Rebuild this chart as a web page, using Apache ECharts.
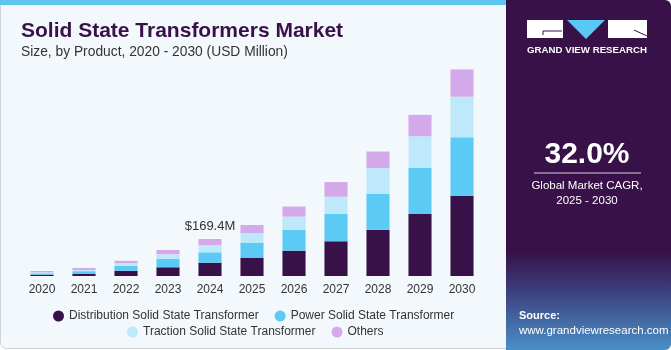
<!DOCTYPE html>
<html>
<head>
<meta charset="utf-8">
<script src="https://cdn.jsdelivr.net/npm/echarts@6/dist/echarts.min.js"></script>
<style>
  html, body { margin: 0; padding: 0; background: #ffffff; }
  #chart { width: 671px; height: 350px; }
</style>
</head>
<body>
<div id="chart"></div>
<script>
// 数据 (USD Million)
var years = ['2020', '2021', '2022', '2023', '2024', '2025', '2026', '2027', '2028', '2029', '2030'];
var distribution = [6, 10.5, 24, 40, 61, 84, 116, 159, 211, 284, 366];
var power = [6, 11.5, 23, 38, 47.6, 69, 95, 125, 165, 211, 269];
var traction = [5, 5.5, 12, 21.5, 33.4, 44, 61, 79, 118, 145, 186];
var others = [6, 9, 10.5, 19.7, 27.4, 36.6, 46, 67, 76, 98, 125];
var seriesNames = ['Distribution Solid State Transformer', 'Power Solid State Transformer',
  'Traction Solid State Transformer', 'Others'];
var colors = ['#371148', '#5bcaf5', '#bde9fa', '#d4a9e9'];
var annotateIndex = 4;
var annotateText = '$169.4M';

var font = '"Liberation Sans", Arial, sans-serif';

function makeSeries(name, data, color, isTop) {
  var s = {
    name: name,
    type: 'bar',
    stack: 'total',
    barWidth: '55%',
    itemStyle: { color: color },
    data: data.slice()
  };
  if (isTop) {
    s.data[annotateIndex] = {
      value: data[annotateIndex],
      label: {
        show: true,
        position: 'top',
        distance: 6,
        formatter: annotateText,
        color: '#333',
        fontSize: 13,
        fontFamily: font
      }
    };
  }
  return s;
}

var myChart = echarts.init(document.getElementById('chart'));

var option = {
  animation: false,
  backgroundColor: '#ffffff',
  color: colors,
  graphic: [
    // 左侧背景
    { type: 'rect', shape: { x: 0.5, y: 0.5, width: 520, height: 348, r: 6 },
      style: { fill: '#f3f8fc', stroke: '#cfd3d6', lineWidth: 1 }, z: -10 },
    { type: 'rect', shape: { x: 0, y: 0, width: 510, height: 5 },
      style: { fill: '#5cc6ef' }, z: -9 },
    // 右侧面板
    { type: 'rect', shape: { x: 506, y: 0, width: 165, height: 350, r: [0, 6, 6, 0] },
      style: { fill: new echarts.graphic.LinearGradient(0, 0, 0, 1, [
        { offset: 0, color: '#371148' },
        { offset: 0.72, color: '#371148' },
        { offset: 0.82, color: '#3b3a78' },
        { offset: 1, color: '#4a90c8' }
      ]) }, z: -9 },
    // logo
    { type: 'rect', shape: { x: 527, y: 20, width: 36, height: 18 }, style: { fill: '#ffffff' } },
    { type: 'line', shape: { x1: 543, y1: 31, x2: 562, y2: 31 }, style: { stroke: '#371148', lineWidth: 1 } },
    { type: 'line', shape: { x1: 543, y1: 31, x2: 543, y2: 35 }, style: { stroke: '#371148', lineWidth: 1 } },
    { type: 'polygon', shape: { points: [[567, 20], [605, 20], [586, 39]] }, style: { fill: '#5bc8f3' } },
    { type: 'rect', shape: { x: 608, y: 20, width: 39, height: 18 }, style: { fill: '#ffffff' } },
    { type: 'line', shape: { x1: 634, y1: 30, x2: 647, y2: 36 }, style: { stroke: '#371148', lineWidth: 1 } },
    { type: 'text', x: 587, y: 50,
      style: { text: 'GRAND VIEW RESEARCH', fill: '#ffffff', font: 'bold 9.7px ' + font,
        textAlign: 'center', textVerticalAlign: 'middle' } },
    // CAGR
    { type: 'text', x: 587, y: 155,
      style: { text: '32.0%', fill: '#ffffff', font: 'bold 30px ' + font, textAlign: 'center', textVerticalAlign: 'middle' } },
    { type: 'line', shape: { x1: 534, y1: 173, x2: 641, y2: 173 }, style: { stroke: '#d8d0e0', lineWidth: 1 } },
    { type: 'text', x: 587, y: 186,
      style: { text: 'Global Market CAGR,', fill: '#ffffff', font: '11.5px ' + font, textAlign: 'center', textVerticalAlign: 'middle' } },
    { type: 'text', x: 587, y: 201,
      style: { text: '2025 - 2030', fill: '#ffffff', font: '11.5px ' + font, textAlign: 'center', textVerticalAlign: 'middle' } },
    // 来源
    { type: 'text', x: 519, y: 316,
      style: { text: 'Source:', fill: '#ffffff', font: 'bold 11px ' + font, textVerticalAlign: 'middle' } },
    { type: 'text', x: 519, y: 331,
      style: { text: 'www.grandviewresearch.com', fill: '#ffffff', font: '11.5px ' + font, textVerticalAlign: 'middle' } }
  ],
  title: [
    { text: 'Solid State Transformers Market', left: 16, top: 16,
      textStyle: { color: '#371148', fontSize: 21, fontWeight: 'bold', fontFamily: font } },
    { text: 'Size, by Product, 2020 - 2030 (USD Million)', left: 16, top: 40,
      textStyle: { color: '#333333', fontSize: 13.8, fontWeight: 'normal', fontFamily: font } }
  ],
  legend: [
    { data: seriesNames.slice(0, 2), left: 48, top: 305, icon: 'circle', itemWidth: 11, itemHeight: 11,
      itemGap: 16, textStyle: { color: '#333', fontSize: 12, fontFamily: font } },
    { data: seriesNames.slice(2), left: 122, top: 321, icon: 'circle', itemWidth: 11, itemHeight: 11,
      itemGap: 16, textStyle: { color: '#333', fontSize: 12, fontFamily: font } }
  ],
  grid: { left: 21, top: 50, width: 462, bottom: 74 },
  xAxis: {
    type: 'category',
    data: years,
    axisLine: { show: false },
    axisTick: { show: false },
    axisLabel: { color: '#333', fontSize: 12, fontFamily: font, margin: 8 }
  },
  yAxis: {
    type: 'value',
    min: 0,
    max: 1035,
    show: false,
    splitLine: { show: false }
  },
  series: [
    makeSeries(seriesNames[0], distribution, colors[0], false),
    makeSeries(seriesNames[1], power, colors[1], false),
    makeSeries(seriesNames[2], traction, colors[2], false),
    makeSeries(seriesNames[3], others, colors[3], true)
  ]
};

myChart.setOption(option);
</script>
</body>
</html>
